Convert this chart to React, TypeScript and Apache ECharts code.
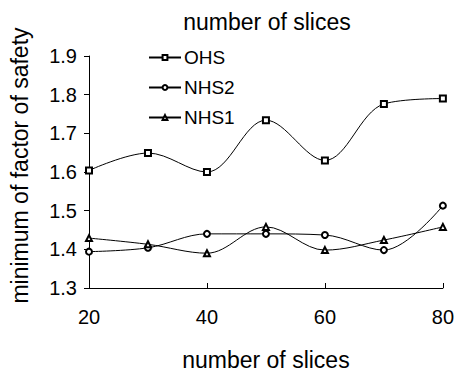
import React, { useEffect, useRef } from "react";
import * as echarts from "echarts";

const slices = [20, 30, 40, 50, 60, 70, 80];
const ohs = [1.604, 1.649, 1.6, 1.734, 1.63, 1.776, 1.79];
const nhs2 = [1.394, 1.404, 1.44, 1.44, 1.437, 1.398, 1.513];
const nhs1 = [1.429, 1.413, 1.39, 1.458, 1.398, 1.424, 1.458];
const seriesNames = ["OHS", "NHS2", "NHS1"];
const symbols = ["emptyRect", "emptyCircle", "emptyTriangle"];

const FONT = "Liberation Sans, Arial, sans-serif";

export default function App() {
  const ref = useRef<HTMLDivElement>(null);
  useEffect(() => {
    const chart = echarts.init(ref.current!, null, { renderer: "svg" });
    const all = [ohs, nhs2, nhs1];
    chart.setOption({
      animation: false,
      backgroundColor: "#fff",
      textStyle: { fontFamily: FONT, color: "#000" },
      title: {
        text: "number of slices",
        left: 262,
        textAlign: "center",
        top: 5,
        textStyle: { fontFamily: FONT, fontSize: 23, fontWeight: "normal", color: "#000" },
      },
      legend: {
        orient: "vertical",
        left: 143,
        top: 43,
        itemGap: 11,
        itemWidth: 32,
        itemHeight: 6,
        textStyle: { fontFamily: FONT, fontSize: 19, color: "#000", padding: [0, 0, 0, -2] },
        data: seriesNames,
      },
      grid: { left: 80, right: 12, top: 56, bottom: 83 },
      xAxis: {
        type: "value",
        min: 20,
        max: 80,
        interval: 20,
        name: "number of slices",
        nameLocation: "middle",
        nameGap: 60,
        nameTextStyle: { fontFamily: FONT, fontSize: 23, color: "#000" },
        axisLine: { lineStyle: { color: "#000", width: 1 } },
        axisTick: { inside: true, length: 5, lineStyle: { color: "#000" } },
        axisLabel: { fontFamily: FONT, fontSize: 20, color: "#000", margin: 19 },
        splitLine: { show: false },
      },
      yAxis: {
        type: "value",
        min: 1.3,
        max: 1.9,
        interval: 0.1,
        name: "minimum of factor of safety",
        nameLocation: "middle",
        nameGap: 58,
        nameTextStyle: { fontFamily: FONT, fontSize: 23, color: "#000", padding: [0, 0, 0, 13] },
        axisLine: { show: true, lineStyle: { color: "#000", width: 1 } },
        axisTick: { show: true, length: 5, lineStyle: { color: "#000" } },
        axisLabel: {
          fontFamily: FONT,
          fontSize: 20,
          color: "#000",
          margin: 12,
          formatter: (v: number) => v.toFixed(1),
        },
        splitLine: { show: false },
      },
      series: seriesNames.map((n, i) => ({
        name: n,
        type: "line",
        smooth: 0.35,
        data: slices.map((x, j) => [x, all[i][j]]),
        symbol: symbols[i],
        symbolSize: 6,
        itemStyle: { color: "#000", borderColor: "#555", borderWidth: 1 },
        lineStyle: { color: "#000", width: 1 },
      })),
    });
    return () => chart.dispose();
  }, []);
  return <div ref={ref} style={{ width: 457, height: 376, position: "absolute", left: 0, top: 0 }} />;
}
